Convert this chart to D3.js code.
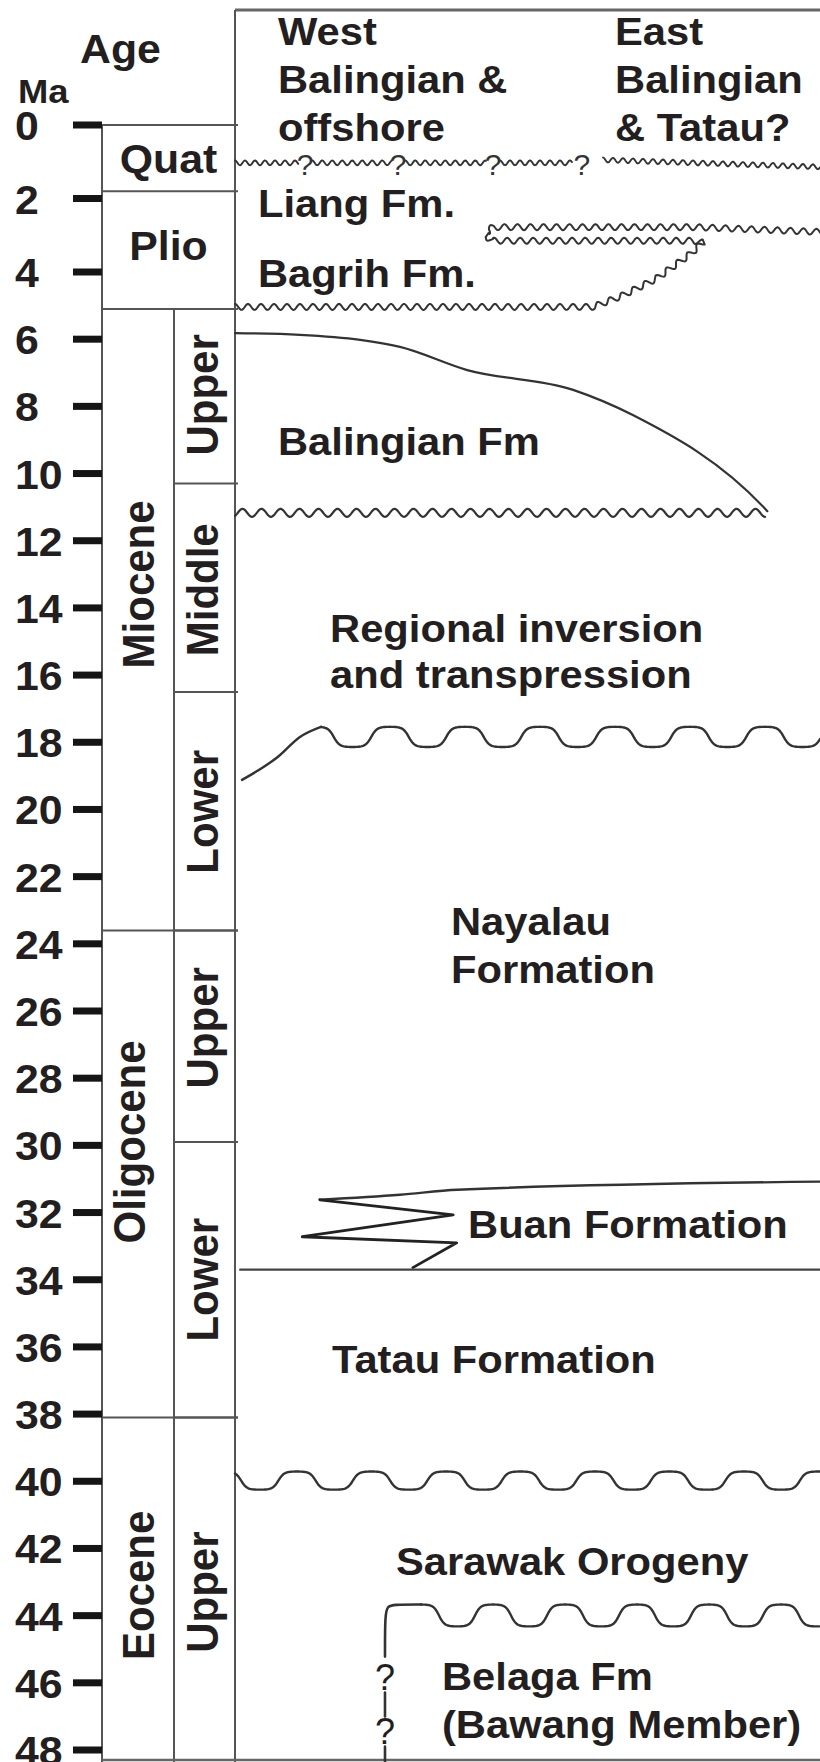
<!DOCTYPE html>
<html>
<head>
<meta charset="utf-8">
<script src="https://cdn.jsdelivr.net/npm/d3@7/dist/d3.min.js"></script>
<style>
html,body{margin:0;padding:0;background:#fff;}
svg{display:block;}
</style>
</head>
<body>
<svg id="chart" width="820" height="1762"></svg>
<script>
// ===================== DATA =====================
// Age axis (Ma)
const tickAges   = [0,2,4,6,8,10,12,14,16,18,20,22,24,26,28,30,32,34,36,38,40,42,44,46,48];
const tickLabels = ["0","2","4","6","8","10","12","14","16","18","20","22","24","26","28","30","32","34","36","38","40","42","44","46","48"];

// Epochs
const epochNames    = ["Quat","Plio","Miocene","Oligocene","Eocene"];
const epochTop      = [0, 1.8, 5.1, 23.6, 38.1];
const epochBase     = [1.8, 5.1, 23.6, 38.1, 48.4];
const epochLabelAge = [0.93, 3.29, 13.3, 29.9, 43.1];

// Sub-epochs
const stageNames    = ["Upper","Middle","Lower","Upper","Lower","Upper"];
const stageTop      = [5.1, 10.3, 16.5, 23.6, 29.9, 38.1];
const stageBase     = [10.3, 16.5, 23.6, 29.9, 38.1, 48.4];
const stageLabelAge = [7.66, 13.46, 20.07, 26.5, 34.0, 43.3];

// Column headers (lateral position 0 = west edge, 100 = east edge)
const headerWest    = ["West","Balingian &","offshore"];
const headerEast    = ["East","Balingian","& Tatau?"];
const headerLateral = [7.35, 64.96];

// Formation / event labels (lateral position, baseline age in Ma)
const formationLabels  = ["Liang Fm.","Bagrih Fm.","Balingian Fm","Regional inversion","and transpression","Nayalau","Formation","Buan Formation","Tatau Formation","Sarawak Orogeny","Belaga Fm","(Bawang Member)"];
const formationLateral = [3.93, 3.93, 7.35, 16.24, 16.24, 36.92, 36.92, 39.83, 16.58, 27.52, 35.38, 35.38];
const formationAge     = [2.50, 4.45, 9.45, 15.01, 16.38, 23.73, 25.16, 32.75, 36.77, 42.78, 46.2, 47.63];

// Quaternary unconformity (with queries)
const quatAge      = 1.03;
const quatSegments = [[0,10.8],[13.2,26.8],[29.1,42.9],[45.3,57.6]];
const quatQueries  = [12.0, 27.9, 44.1, 59.3];
const quatEast     = [[62.9,0.95],[100,1.14]];

// Base Bagrih unconformity with pinch-out loop
const bagrihBase = [[0,5.04],[61.2,5.04],[66,4.72],[72,4.2],[77.5,3.55],[80,3.2],[78.5,3.15],[44.1,3.15],[43.2,3.06],[43.0,2.96],[43.3,2.85],[44.1,2.78],[79,2.78],[100,2.91]];

// Balingian Formation wedge
const balingianTop  = [[0,5.82],[11.1,5.87],[21.4,6.02],[28.2,6.23],[39.7,6.92],[57.8,7.51],[68.0,8.26],[90.3,10.99],[91.0,11.12]];
const balingianBase = [[90.6,11.17],[0,11.17]];

// Regional inversion unconformity (~18 Ma)
const inversionRise = [[1.2,19.12],[7.35,18.43],[11.1,17.84],[14.7,17.54]];
const inversionWave = {from:14.7, to:100, crest:17.54, trough:18.14};

// Buan Formation tongue
const buanTop    = [[100,31.08],[38,31.32],[28.2,31.47],[14.5,31.62]];
const buanZigzag = [[14.5,31.62],[37.3,32.07],[11.5,32.72],[37.9,32.9],[30.4,33.64]];
const buanBase   = [[0.9,33.7],[100,33.7]];

// Sarawak Orogeny unconformities
const sarawakWave   = {from:0, to:100, crest:39.71, trough:40.25};
const belagaWave    = {from:31.8, to:100, crest:43.67, trough:44.32};
const belagaEdge    = [[25.64,45.22],[25.64,43.95],[26.1,43.72],[27.0,43.67],[31.8,43.67]];
const belagaLateral = 25.64;
const belagaQueries = [45.82, 47.42];
const belagaDashes  = [[46.29,47.0],[47.9,48.4]];

// ===================== SCALES / LAYOUT =====================
const svg = d3.select("#chart");
const y = d3.scaleLinear().domain([0,4,48]).range([125,272,1750]);
const x = d3.scaleLinear().domain([0,100]).range([235,820]);

const FONT = "'Liberation Sans', Arial, Helvetica, sans-serif";
const SX = 1.07;
const INK = "#231f20";
const RULE = "#555";
const LINE = "#333";
const tickX0 = 73, axisX = 102, stageX = 174, panelX = x(0), frameTop = 10, frameBottom = 1760;

function txt(str, px, py, size, o = {}) {
  return svg.append("text")
    .attr("transform", `translate(${px},${py}) scale(${o.sx ?? SX},1)` + (o.rotate ? ` rotate(${o.rotate})` : ""))
    .attr("font-family", FONT)
    .attr("font-weight", o.weight || "bold")
    .attr("font-size", size)
    .attr("fill", o.fill || INK)
    .attr("text-anchor", o.anchor || "start")
    .text(str);
}
function rule(x1, y1, x2, y2, w = 2, c = RULE) {
  svg.append("line").attr("x1", x1).attr("y1", y1).attr("x2", x2).attr("y2", y2)
    .attr("stroke", c).attr("stroke-width", w);
}
const shape = (th, k) => k < 0.01 ? Math.cos(th) : Math.tanh(k * Math.cos(th)) / Math.tanh(k);

// wave offset along a polyline (arc-length based)
function wavyAlong(pts, period, amp, k = 0) {
  const out = [];
  let s = 0;
  for (let i = 0; i < pts.length - 1; i++) {
    const [x0, y0] = pts[i], [x1, y1] = pts[i + 1];
    const L = Math.hypot(x1 - x0, y1 - y0);
    if (L === 0) continue;
    const tx = (x1 - x0) / L, ty = (y1 - y0) / L, nx = -ty, ny = tx;
    const n = Math.max(1, Math.ceil(L));
    for (let j = (out.length ? 1 : 0); j <= n; j++) {
      const t = j / n * L;
      const w = -amp * shape(2 * Math.PI * (s + t) / period, k);
      out.push([x0 + tx * t + nx * w, y0 + ty * t + ny * w]);
    }
    s += L;
  }
  return out;
}
// big rounded unconformity wave along a horizontal level
function bigWave(spec, period, crestX, k = 2) {
  const yc = y(spec.crest), yt = y(spec.trough);
  const mid = (yc + yt) / 2, A = (yt - yc) / 2;
  const pts = [];
  for (let px = x(spec.from); px <= x(spec.to) + 0.01; px += 1) {
    pts.push([px, mid - A * shape(2 * Math.PI * (px - crestX) / period, k)]);
  }
  return pts;
}
const toPx = arr => arr.map(d => [x(d[0]), y(d[1])]);
const lin = d3.line();
function drawPath(pts, w = 2, c = LINE, curve) {
  const g = curve ? d3.line().curve(curve) : lin;
  svg.append("path").attr("d", g(pts)).attr("fill", "none")
    .attr("stroke", c).attr("stroke-width", w).attr("stroke-linejoin", "round").attr("stroke-linecap", "round");
}

// ===================== FRAME =====================
rule(panelX, frameTop, 820, frameTop, 3, "#666");
rule(panelX, frameTop, panelX, 1762, 2);
rule(axisX, y(0), axisX, 1762, 2);
rule(stageX, y(epochTop[2]), stageX, 1762, 2);
rule(axisX, frameBottom, 820, frameBottom, 2.5, "#666");

// epoch & stage boundaries
epochTop.forEach(a => rule(axisX, y(a), panelX + 3, y(a), 2));
stageTop.forEach(a => rule(stageX, y(a), panelX + 3, y(a), 2));

// ===================== AXIS =====================
svg.selectAll("rect.tick").data(tickAges).join("rect").attr("class", "tick")
  .attr("x", tickX0).attr("width", axisX - tickX0)
  .attr("y", d => y(d) - 3.5).attr("height", 7).attr("fill", "#151515");
tickAges.forEach((a, i) => txt(tickLabels[i], 15, y(a) + 15, 40));
txt("Age", 80, 63, 40);
txt("Ma", 18, 103, 34);

// epoch labels
epochNames.forEach((n, i) => {
  if (i < 2) {
    txt(n, (axisX + panelX) / 2, y(epochLabelAge[i]) + 14, 40, {anchor: "middle"});
  } else {
    const F = 42, cap = 0.716 * F * SX;
    const cx = n === "Oligocene" ? 128.5 : 137.5;
    txt(n, cx + cap / 2, y(epochLabelAge[i]), F, {anchor: "middle", rotate: -90});
  }
});
stageNames.forEach((n, i) => {
  const F = 42, cap = 0.716 * F * SX;
  txt(n, 202 + cap / 2, y(stageLabelAge[i]), F, {anchor: "middle", rotate: -90});
});

// ===================== HEADERS =====================
[headerWest, headerEast].forEach((lines, j) => {
  lines.forEach((s, i) => txt(s, x(headerLateral[j]), 45 + i * 48, 39));
});

// ===================== UNCONFORMITIES & CONTACTS =====================
// Quaternary
quatSegments.forEach(sg => drawPath(wavyAlong(toPx([[sg[0], quatAge], [sg[1], quatAge]]), 10, 2.4), 1.9));
quatQueries.forEach(u => txt("?", x(u), y(quatAge) + 12, 30, {anchor: "middle", weight: "normal", fill: "#333", sx: 1}));
drawPath(wavyAlong(toPx(quatEast), 10, 2.4), 1.9);

// Base Bagrih / Liang pinch-out
drawPath(wavyAlong(toPx(bagrihBase), 13, 3), 2);

// Balingian wedge
drawPath(toPx(balingianTop), 2.2, LINE, d3.curveMonotoneX);
drawPath(wavyAlong(toPx(balingianBase), 19, 4), 2.2);

// Regional inversion
drawPath(toPx(inversionRise), 2.4, LINE, d3.curveMonotoneX);
drawPath(bigWave(inversionWave, 75, 315), 2.4);

// Buan
drawPath(toPx(buanTop), 2.4, LINE, d3.curveMonotoneX);
drawPath(toPx(buanZigzag), 2.8, "#222");
drawPath(toPx(buanBase), 2.4, "#444");

// Sarawak orogeny
drawPath(bigWave(sarawakWave, 74.5, 297), 2.4);
drawPath(toPx(belagaEdge), 2.6, LINE, d3.curveBasis);
drawPath(bigWave(belagaWave, 72, 421), 2.4);
belagaDashes.forEach(d => drawPath([[x(belagaLateral), y(d[0])], [x(belagaLateral), y(d[1])]], 2.6));
belagaQueries.forEach(a => txt("?", x(belagaLateral), y(a) + 13, 36, {anchor: "middle", weight: "normal", sx: 1}));

// ===================== FORMATION LABELS =====================
formationLabels.forEach((s, i) => txt(s, x(formationLateral[i]), y(formationAge[i]), 39));
</script>
</body>
</html>
